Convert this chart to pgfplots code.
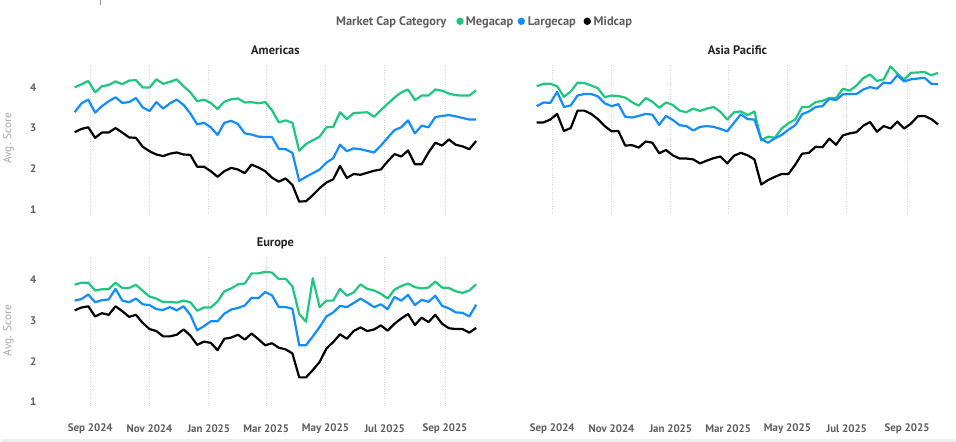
\documentclass[border=0pt]{standalone}
\usepackage{pgfplots}
\pgfplotsset{compat=1.18}
\usepackage{pgfplotstable}
\usepackage{fontspec}
\setmainfont{PT Sans}

\definecolor{mega}{HTML}{1FC77E}
\definecolor{large}{HTML}{118DFF}
\definecolor{mid}{HTML}{000000}
\definecolor{ticktxt}{HTML}{605E5C}
\definecolor{titletxt}{HTML}{252423}
\definecolor{labtxt}{HTML}{A6A6A6}
\definecolor{gridc}{HTML}{D4D4D4}

% weekly scores, x = days after 1 Sep 2024
\pgfplotstableread{
x mega large mid
-16 4.00 3.39 2.90
-9 4.08 3.61 2.98
-2 4.16 3.70 3.02
5 3.88 3.38 2.76
12 4.03 3.54 2.89
19 4.06 3.66 2.89
26 4.15 3.76 3.00
33 4.08 3.62 2.89
40 4.17 3.64 2.77
47 4.18 3.74 2.76
54 4.00 3.51 2.54
61 4.00 3.42 2.43
68 4.20 3.64 2.35
75 4.09 3.48 2.31
82 4.14 3.61 2.37
89 4.20 3.70 2.40
96 4.03 3.57 2.35
103 3.88 3.36 2.34
110 3.66 3.09 2.05
117 3.70 3.13 2.05
124 3.62 3.02 1.94
131 3.47 2.83 1.80
138 3.65 3.13 1.94
145 3.71 3.18 2.02
152 3.73 3.10 1.98
159 3.63 2.87 1.89
166 3.64 2.84 2.10
173 3.61 2.79 2.03
180 3.64 2.78 1.94
187 3.44 2.78 1.78
194 3.14 2.49 1.68
201 3.19 2.48 1.76
208 3.13 2.39 1.60
215 2.44 1.70 1.19
222 2.61 1.80 1.20
229 2.70 1.89 1.35
236 2.79 1.98 1.52
243 3.02 2.15 1.66
250 3.03 2.26 1.74
257 3.39 2.59 2.07
264 3.22 2.43 1.77
271 3.37 2.50 1.87
278 3.38 2.48 1.85
285 3.39 2.44 1.90
292 3.28 2.40 1.95
299 3.44 2.57 1.98
306 3.60 2.76 2.18
313 3.75 2.95 2.36
320 3.88 3.02 2.30
327 3.95 3.19 2.45
334 3.69 2.87 2.11
341 3.80 3.06 2.11
348 3.80 3.02 2.40
355 3.95 3.27 2.64
362 3.92 3.30 2.57
369 3.85 3.32 2.72
376 3.81 3.29 2.59
383 3.80 3.25 2.55
390 3.80 3.21 2.48
397 3.93 3.21 2.68
}\americas

\pgfplotstableread{
x mega large mid
-16 4.03 3.54 3.14
-9 4.09 3.63 3.14
-2 4.09 3.62 3.21
5 4.03 3.89 3.35
12 3.77 3.52 2.93
19 3.90 3.56 3.00
26 4.12 3.80 3.43
33 4.11 3.84 3.43
40 4.05 3.84 3.35
47 3.98 3.78 3.22
54 3.76 3.61 3.05
61 3.80 3.54 2.92
68 3.79 3.59 2.93
75 3.75 3.28 2.57
82 3.64 3.26 2.58
89 3.55 3.30 2.52
96 3.74 3.35 2.67
103 3.65 3.33 2.64
110 3.50 3.08 2.38
117 3.63 3.30 2.46
124 3.57 3.20 2.33
131 3.43 3.07 2.25
138 3.39 3.05 2.25
145 3.48 2.94 2.23
152 3.42 3.03 2.13
159 3.48 3.05 2.20
166 3.52 3.03 2.26
173 3.40 2.98 2.30
180 3.21 2.92 2.13
187 3.39 3.13 2.32
194 3.41 3.34 2.39
201 3.32 3.22 2.33
208 3.41 3.21 2.23
215 2.70 2.73 1.61
222 2.79 2.64 1.72
229 2.76 2.75 1.80
236 2.99 2.83 1.87
243 3.12 2.96 1.87
250 3.21 3.07 2.10
257 3.52 3.34 2.37
264 3.52 3.41 2.39
271 3.64 3.52 2.54
278 3.67 3.54 2.53
285 3.74 3.72 2.74
292 3.74 3.69 2.59
299 3.97 3.83 2.82
306 3.92 3.84 2.87
313 4.05 3.84 2.90
320 4.23 3.95 3.06
327 4.32 4.01 3.15
334 4.16 3.97 2.91
341 4.20 4.12 3.05
348 4.52 4.10 2.99
355 4.34 4.30 3.16
362 4.20 4.15 2.99
369 4.36 4.20 3.11
376 4.37 4.22 3.29
383 4.38 4.24 3.30
390 4.30 4.09 3.22
397 4.36 4.08 3.09
}\asia

\pgfplotstableread{
x mega large mid
-16 3.88 3.49 3.25
-9 3.93 3.53 3.32
-2 3.93 3.64 3.35
5 3.74 3.45 3.10
12 3.77 3.50 3.18
19 3.77 3.52 3.14
26 3.93 3.78 3.35
33 3.80 3.49 3.23
40 3.80 3.45 3.09
47 3.88 3.54 3.14
54 3.73 3.40 2.94
61 3.59 3.38 2.79
68 3.54 3.28 2.74
75 3.45 3.26 2.61
82 3.46 3.33 2.61
89 3.44 3.25 2.65
96 3.49 3.35 2.78
103 3.45 3.14 2.63
110 3.24 2.76 2.40
117 3.32 2.86 2.48
124 3.32 2.98 2.45
131 3.47 2.98 2.27
138 3.72 3.17 2.55
145 3.79 3.27 2.58
152 3.89 3.31 2.65
159 3.91 3.37 2.53
166 4.16 3.56 2.68
173 4.16 3.55 2.54
180 4.20 3.70 2.39
187 4.18 3.62 2.44
194 4.02 3.33 2.33
201 4.03 3.33 2.29
208 3.84 3.29 2.19
215 3.16 2.39 1.60
222 2.97 2.39 1.60
229 4.04 2.61 1.78
236 3.33 2.84 1.98
243 3.49 3.10 2.31
250 3.49 3.20 2.47
257 3.78 3.36 2.66
264 3.61 3.33 2.55
271 3.69 3.43 2.74
278 3.89 3.54 2.83
285 3.78 3.44 2.74
292 3.74 3.33 2.78
299 3.66 3.40 2.88
306 3.54 3.28 2.75
313 3.76 3.58 2.92
320 3.85 3.49 3.05
327 3.91 3.63 3.16
334 3.82 3.38 2.89
341 3.79 3.51 3.07
348 3.81 3.46 2.96
355 3.96 3.61 3.14
362 3.81 3.36 2.92
369 3.80 3.30 2.81
376 3.72 3.20 2.79
383 3.68 3.19 2.79
390 3.74 3.10 2.70
397 3.89 3.39 2.82
}\europe

\pgfplotsset{
  panel/.style={
    scale only axis, width=409.8bp, height=150.5bp, anchor=south west,
    xmin=-20, xmax=401, ymin=0.9, ymax=4.6,
    axis line style={draw=none}, major tick length=0pt,
    xtick={0,61,122,181,242,303,365},
    xticklabels={Sep 2024,Nov 2024,Jan 2025,Mar 2025,May 2025,Jul 2025,Sep 2025},
    ytick={1,2,3,4},
    xmajorgrids, major grid style={gridc, dotted, line width=0.8bp},
    tick label style={font=\fontsize{11}{13}\selectfont\bfseries, text=ticktxt},
    /pgf/number format/assume math mode=true,
    yticklabel style={xshift=-31bp},
    title style={font=\fontsize{12.5}{15}\selectfont\bfseries, text=titletxt, anchor=center, yshift=6.5bp},
    ylabel style={font=\fontsize{11.5}{13}\selectfont, text=labtxt, at={(axis description cs:-0.152,0.5)}, anchor=center},
    every axis plot/.append style={line width=2.2bp, line join=round, no marks},
  },
}
\tikzset{legtext/.style={anchor=base west, inner sep=0, font=\fontsize{12.5}{15}\selectfont\bfseries, text=ticktxt}}

\begin{document}
\begin{tikzpicture}
\fill[white] (0,0) rectangle (956bp,442bp);
\fill[black!7] (0,0) rectangle (956bp,2.5bp);
\draw[black!40, line width=0.6bp] (99.5bp,442bp) -- (99.5bp,437bp);

% legend
\node[legtext] at (335bp,416.5bp) {Market Cap Category};
\fill[mega] (459.3bp,421bp) circle (3.7bp);
\node[legtext] at (465bp,416.5bp) {Megacap};
\fill[large] (520.7bp,421bp) circle (3.7bp);
\node[legtext] at (527bp,416.5bp) {Largecap};
\fill[mid] (586.7bp,421bp) circle (3.7bp);
\node[legtext] at (593bp,416.5bp) {Midcap};

\begin{axis}[panel, at={(69.5bp,228.6bp)}, title={Americas}, ylabel={Avg. Score}, xticklabels={}]
\addplot[color=mega] table[x=x, y=mega] {\americas};
\addplot[color=large] table[x=x, y=large] {\americas};
\addplot[color=mid] table[x=x, y=mid] {\americas};
\end{axis}

\begin{axis}[panel, at={(532.2bp,228.6bp)}, title={Asia Pacific}, yticklabels={},
  xticklabel style={anchor=center, yshift=-215.6bp}]
\addplot[color=mega] table[x=x, y=mega] {\asia};
\addplot[color=large] table[x=x, y=large] {\asia};
\addplot[color=mid] table[x=x, y=mid] {\asia};
\end{axis}

\begin{axis}[panel, at={(69.5bp,35.9bp)}, title={Europe}, ylabel={Avg. Score},
  xticklabel style={anchor=center, yshift=-22.9bp}]
\addplot[color=mega] table[x=x, y=mega] {\europe};
\addplot[color=large] table[x=x, y=large] {\europe};
\addplot[color=mid] table[x=x, y=mid] {\europe};
\end{axis}
\end{tikzpicture}
\end{document}
